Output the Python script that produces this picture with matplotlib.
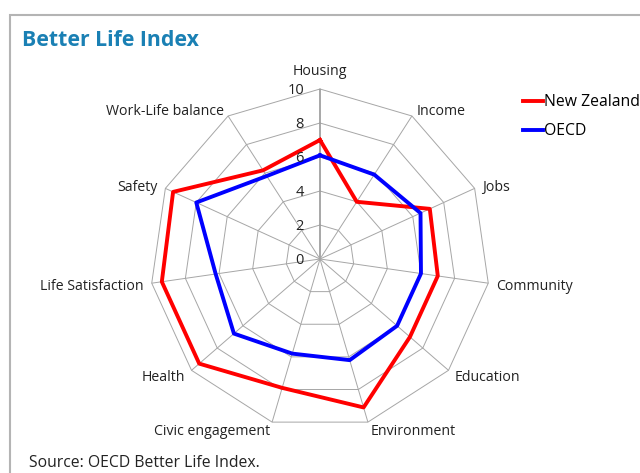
import numpy as np
import matplotlib
matplotlib.use("Agg")
import matplotlib.pyplot as plt
from matplotlib.patches import Rectangle

# Datos del gráfico
categorias = ['Housing', 'Income', 'Jobs', 'Community', 'Education', 'Environment',
              'Civic engagement', 'Health', 'Life Satisfaction', 'Safety', 'Work-Life balance']
nueva_zelanda = [7.0, 4.0, 7.1, 7.0, 7.0, 9.1, 7.9, 9.4, 9.4, 9.5, 6.2]
ocde = [6.1, 5.9, 6.5, 6.0, 6.0, 6.2, 5.8, 6.7, 6.2, 8.0, 5.8]
niveles = [0, 2, 4, 6, 8, 10]

plt.rcParams['font.family'] = ['Open Sans', 'DejaVu Sans']

n = len(categorias)
ang = np.arange(n) * 2 * np.pi / n
ang_c = np.append(ang, ang[0])

fig = plt.figure(figsize=(6.4, 4.73), dpi=100)

# Marco gris
fig.patches.append(Rectangle((10 / 640, -0.1), 2, 1.1 - 15 / 473,
                             transform=fig.transFigure, fill=False,
                             edgecolor='#b4b4b4', linewidth=1.5))

ax = fig.add_axes([150 / 640, 44 / 473, 340 / 640, 340 / 473], projection='polar')
ax.set_theta_zero_location('N')
ax.set_theta_direction(-1)
ax.set_ylim(0, 10)
ax.axis('off')

# Rejilla poligonal
for r in niveles[1:]:
    ax.plot(ang_c, [r] * (n + 1), color='#a6a6a6', lw=0.7, clip_on=False, zorder=1)
for i, a in enumerate(ang):
    if i == 0:
        ax.plot([a, a], [0, 10], color='#a0a0a0', lw=1.3, zorder=1)
    else:
        ax.plot([a, a], [0, 10], color='#a6a6a6', lw=0.7, zorder=1)

# Series
ax.plot(ang_c, nueva_zelanda + nueva_zelanda[:1], color='#ff0000', lw=2.8,
        label='New Zealand', clip_on=False, zorder=3)
ax.plot(ang_c, ocde + ocde[:1], color='#0000ff', lw=2.8,
        label='OECD', clip_on=False, zorder=3)

# Etiquetas del eje de valores
for v in niveles:
    ax.annotate(str(v), xy=(0, v), xytext=(-16, -1), textcoords='offset pixels',
                ha='right', va='center', fontsize=10.5, color='#222222')

# Etiquetas de categorías
for i, (a, lab) in enumerate(zip(ang, categorias)):
    if i == 0:
        ax.annotate(lab, xy=(a, 10), xytext=(0, 10), textcoords='offset pixels',
                    ha='center', va='bottom', fontsize=10.2, color='#222222')
        continue
    d = 8
    dx, dy = d * np.sin(a), d * np.cos(a) - 2
    ha = 'left' if np.sin(a) > 0 else 'right'
    ax.annotate(lab, xy=(a, 10), xytext=(dx, dy), textcoords='offset pixels',
                ha=ha, va='center', fontsize=10.2, color='#222222')

ax.legend(loc='upper left', bbox_to_anchor=(523 / 640, 1 - 94 / 473),
          bbox_transform=fig.transFigure, frameon=False, fontsize=11.3,
          handlelength=1.3, handletextpad=0.05, labelspacing=0.85,
          borderaxespad=0, borderpad=0)

fig.text(22 / 640, 1 - 40 / 473, 'Better Life Index', fontsize=15.3, fontweight='bold',
         color='#1a80b4', va='center', ha='left')
fig.text(29 / 640, 1 - 463 / 473, 'Source: OECD Better Life Index.', fontsize=11.3,
         color='#222222', va='center', ha='left')

fig.savefig('out.png', dpi=100)
